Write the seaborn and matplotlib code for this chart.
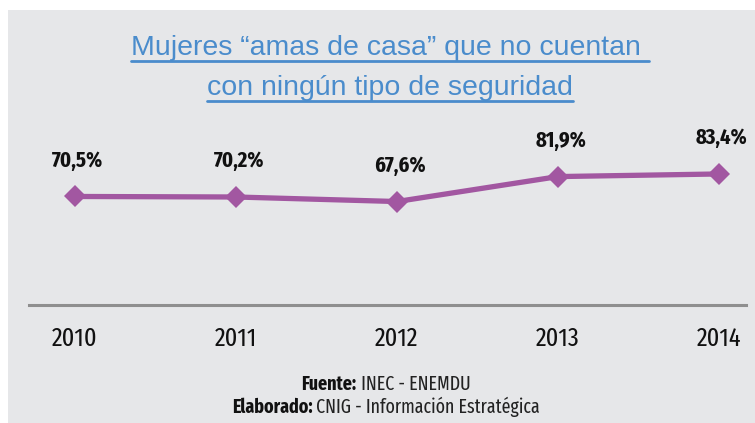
import matplotlib
matplotlib.use("Agg")
import matplotlib.pyplot as plt
from matplotlib.patches import Rectangle
from matplotlib.lines import Line2D
import seaborn as sns
import pandas as pd

# ---- data ----
years = ["2010", "2011", "2012", "2013", "2014"]
values = [70.5, 70.2, 67.6, 81.9, 83.4]
value_labels = ["70,5%", "70,2%", "67,6%", "81,9%", "83,4%"]
title_lines = ["Mujeres \u201camas de casa\u201d que no cuentan ", "con ningún tipo de seguridad"]
source_bold = ["Fuente:", "Elaborado:"]
source_text = [" INEC - ENEMDU", " CNIG - Información Estratégica"]

sns.set_theme(style="white")
NARROW = ["Fira Sans Extra Condensed", "DejaVu Sans"]
REG = ["Liberation Sans", "DejaVu Sans"]
plt.rcParams["font.family"] = NARROW

BG = "#e6e7e9"
BLUE = "#4a8ccc"
PURPLE = "#a257a1"

W, H = 755, 423
fig = plt.figure(figsize=(W / 100, H / 100), dpi=100)
fig.patch.set_facecolor("white")
fig.patches.append(Rectangle((8 / W, 0), 1, 1 - 10 / H, transform=fig.transFigure,
                             facecolor=BG, edgecolor="none", zorder=-10))

def fx(px):
    return px / W

def fy(py):
    return 1 - py / H

ax = fig.add_axes([fx(29), fy(305), fx(746) - fx(29), fy(145) - fy(305)])
ax.set_facecolor("none")
ax.set_zorder(2)

df = pd.DataFrame({"x": range(len(years)), "val": values})
sns.lineplot(data=df, x="x", y="val", ax=ax, color=PURPLE, linewidth=3.8,
             marker="D", markersize=11, markeredgewidth=0)

ax.set_xlim(-0.286, 4.168)
ax.set_ylim(8.3, 100)
ax.set_xticks(range(len(years)))
ax.set_xticklabels(years, fontsize=19, color="#111111", family=NARROW, fontweight="normal")
ax.set_yticks([])
ax.set_xlabel("")
ax.set_ylabel("")
ax.tick_params(axis="x", length=0, pad=15)
for s in ["top", "left", "right"]:
    ax.spines[s].set_visible(False)
ax.spines["bottom"].set_color("#8f8f8f")
ax.spines["bottom"].set_linewidth(2.2)

for i, (v, lab) in enumerate(zip(values, value_labels)):
    ax.annotate(lab, (i, v), xytext=(2, 26), textcoords="offset points",
                ha="center", va="center", fontsize=16, fontweight="bold",
                color="#111111", family=NARROW, annotation_clip=False)

# title with underline
fig.canvas.draw()
renderer = fig.canvas.get_renderer()
title_y = [48, 88]
for line, ty in zip(title_lines, title_y):
    t = fig.text(fx(390), fy(ty), line, ha="center", va="center", fontsize=20.5,
                 color=BLUE, family=REG)
    bb = t.get_window_extent(renderer=renderer)
    uy = ty + 13
    fig.add_artist(Line2D([bb.x0 / W, bb.x1 / W], [fy(uy), fy(uy)],
                          transform=fig.transFigure, color=BLUE, linewidth=2.0))

# source lines (bold + regular), centered
src_y = [384, 407]
for b, r, sy in zip(source_bold, source_text, src_y):
    tb = fig.text(0, fy(sy), b, ha="left", va="center", fontsize=14,
                  fontweight="bold", color="#111111", family=NARROW)
    tr = fig.text(0, fy(sy), r, ha="left", va="center", fontsize=14,
                  color="#222222", family=NARROW, fontweight="normal")
    wb = tb.get_window_extent(renderer=renderer).width
    wr = tr.get_window_extent(renderer=renderer).width
    start = 386 - (wb + wr) / 2
    tb.set_x(fx(start))
    tr.set_x(fx(start + wb))

fig.savefig("out.png", dpi=100, facecolor=fig.get_facecolor())
